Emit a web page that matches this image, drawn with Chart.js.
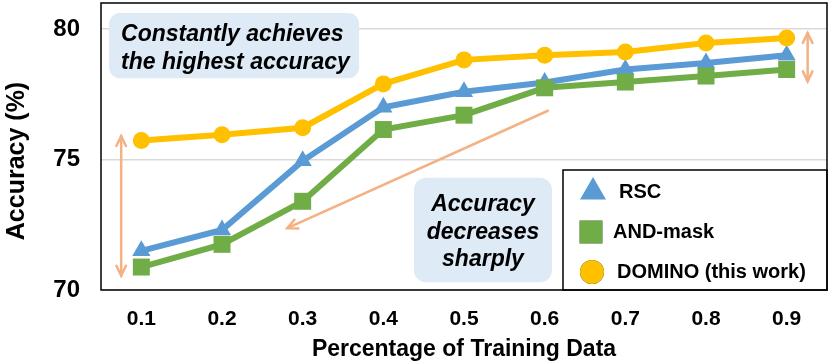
<!DOCTYPE html>
<html>
<head>
<meta charset="utf-8">
<script src="https://cdn.jsdelivr.net/npm/chart.js@4"></script>
<style>
  body { margin: 0; background: #fff; }
  #wrap { width: 830px; height: 363px; position: relative; }
</style>
</head>
<body>
<div id="wrap"><canvas id="accChart"></canvas></div>
<script>
// data
const categories = ['0.1', '0.2', '0.3', '0.4', '0.5', '0.6', '0.7', '0.8', '0.9'];
const rscAcc     = [71.5, 72.3, 74.95, 77.0, 77.6, 77.95, 78.45, 78.7, 79.0];
const andMaskAcc = [70.88, 71.75, 73.4, 76.15, 76.7, 77.75, 77.97, 78.2, 78.45];
const dominoAcc  = [75.73, 75.95, 76.22, 77.9, 78.82, 79.0, 79.12, 79.47, 79.66];
const yTicks = [70, 75, 80];

const FONT = '"Liberation Sans", Arial, sans-serif';
const BLUE = '#5B9BD5', GREEN = '#70AD47', YELLOW = '#FFC000';
const ARROW = '#F4B183', NOTE_BG = '#DEEAF6';

function roundRect(ctx, x, y, w, h, r) {
  ctx.beginPath();
  ctx.moveTo(x + r, y);
  ctx.arcTo(x + w, y, x + w, y + h, r);
  ctx.arcTo(x + w, y + h, x, y + h, r);
  ctx.arcTo(x, y + h, x, y, r);
  ctx.arcTo(x, y, x + w, y, r);
  ctx.closePath();
}

function arrowHead(ctx, x, y, angle, len) {
  ctx.beginPath();
  ctx.moveTo(x + len * Math.cos(angle + 0.45), y + len * Math.sin(angle + 0.45));
  ctx.lineTo(x, y);
  ctx.lineTo(x + len * Math.cos(angle - 0.45), y + len * Math.sin(angle - 0.45));
  ctx.stroke();
}

function arrow(ctx, x1, y1, x2, y2, both) {
  ctx.beginPath();
  ctx.moveTo(x1, y1);
  ctx.lineTo(x2, y2);
  ctx.stroke();
  const a = Math.atan2(y1 - y2, x1 - x2);
  arrowHead(ctx, x2, y2, a, 11);
  if (both) arrowHead(ctx, x1, y1, a + Math.PI, 11);
}

// notes and arrows placed in data units
const notesPlugin = {
  id: 'notes',
  beforeDatasetsDraw(chart) {
    const { ctx, scales: { x, y } } = chart;
    ctx.save();
    // boxes
    ctx.fillStyle = NOTE_BG;
    let bx = x.getPixelForValue(-0.4), by = y.getPixelForValue(80.62);
    roundRect(ctx, bx, by, x.getPixelForValue(2.7) - bx, y.getPixelForValue(78.12) - by, 11);
    ctx.fill();
    let cx = x.getPixelForValue(3.38), cy = y.getPixelForValue(74.3);
    roundRect(ctx, cx, cy, x.getPixelForValue(5.09) - cx, y.getPixelForValue(70.3) - cy, 12);
    ctx.fill();

    ctx.fillStyle = '#000';
    ctx.font = 'italic bold 23px ' + FONT;
    ctx.textBaseline = 'middle';
    ctx.textAlign = 'left';
    ctx.fillText('Constantly achieves', bx + 12, by + 22);
    ctx.fillText('the highest accuracy', bx + 12, by + 50);
    ctx.textAlign = 'center';
    const mid = (cx + x.getPixelForValue(5.09)) / 2;
    ctx.fillText('Accuracy', mid, cy + 27);
    ctx.fillText('decreases', mid, cy + 55);
    ctx.fillText('sharply', mid, cy + 82);

    // arrows
    ctx.strokeStyle = ARROW;
    ctx.lineWidth = 2.5;
    ctx.lineCap = 'round';
    const lx = x.getPixelForValue(-0.25);
    arrow(ctx, lx, y.getPixelForValue(75.9), lx, y.getPixelForValue(70.55), true);
    const rx = x.getPixelForValue(8.26);
    arrow(ctx, rx, y.getPixelForValue(79.85), rx, y.getPixelForValue(78.0), true);
    arrow(ctx, x.getPixelForValue(5.04), y.getPixelForValue(76.87),
               x.getPixelForValue(1.81), y.getPixelForValue(72.37), false);
    ctx.restore();
  },
  afterDraw(chart) {
    const { ctx, chartArea: a } = chart;
    ctx.save();
    // y axis title
    ctx.fillStyle = '#000';
    ctx.font = 'bold 25px ' + FONT;
    ctx.textAlign = 'center';
    ctx.textBaseline = 'middle';
    ctx.translate(17, 161);
    ctx.rotate(-Math.PI / 2);
    ctx.fillText('Accuracy (%)', 0, 0);
    ctx.setTransform(1, 0, 0, 1, 0, 0);

    // legend box
    const lx = a.left + 462, ly = a.top + 167;
    ctx.fillStyle = '#fff';
    ctx.fillRect(lx, ly, a.right - lx, a.bottom - ly);
    ctx.strokeStyle = '#000';
    ctx.lineWidth = 1.5;
    ctx.strokeRect(lx, ly, a.right - lx, a.bottom - ly);
    const items = [
      { label: 'RSC', color: BLUE, style: 'triangle', r: 15, dy: 22, mx: 30, tx: 56 },
      { label: 'AND-mask', color: GREEN, style: 'rect', r: 16, dy: 62, mx: 28, tx: 50 },
      { label: 'DOMINO (this work)', color: YELLOW, style: 'circle', r: 12, dy: 102, mx: 29, tx: 54 }
    ];
    ctx.font = 'bold 20px ' + FONT;
    ctx.textBaseline = 'middle';
    ctx.textAlign = 'left';
    items.forEach(it => {
      Chart.helpers.drawPoint(ctx, { pointStyle: it.style, radius: it.r, rotation: 0, borderWidth: 0 }, lx + it.mx, ly + it.dy);
      ctx.fillStyle = it.color;
      ctx.fill();
      ctx.fillStyle = '#000';
      ctx.fillText(it.label, lx + it.tx, ly + it.dy);
    });
    // plot frame
    ctx.strokeStyle = '#000';
    ctx.lineWidth = 1.5;
    ctx.strokeRect(a.left, a.top, a.right - a.left, a.bottom - a.top);
    ctx.restore();
  }
};

function series(label, data, color, style, radius, order) {
  return {
    label, data, order,
    borderColor: color, backgroundColor: color,
    borderWidth: 6,
    pointStyle: style, pointRadius: radius,
    pointBackgroundColor: color, pointBorderWidth: 0,
    tension: 0
  };
}

new Chart(document.getElementById('accChart'), {
  type: 'line',
  data: {
    labels: categories,
    datasets: [
      series('RSC', rscAcc, BLUE, 'triangle', 10.5, 2),
      series('AND-mask', andMaskAcc, GREEN, 'rect', 12, 1),
      series('DOMINO (this work)', dominoAcc, YELLOW, 'circle', 8.5, 0)
    ]
  },
  options: {
    responsive: true,
    maintainAspectRatio: false,
    animation: false,
    layout: { autoPadding: false, padding: { top: 3, right: 3, left: 0, bottom: 0 } },
    plugins: { legend: { display: false }, tooltip: { enabled: false } },
    scales: {
      x: {
        offset: true,
        grid: { display: false, drawTicks: false },
        border: { display: false },
        ticks: { color: '#000', padding: 17, font: { family: FONT, size: 21, weight: 'bold' } },
        title: { display: true, text: 'Percentage of Training Data', color: '#000',
                 padding: { top: 0, bottom: 0 },
                 font: { family: FONT, size: 23, weight: 'bold' } },
        afterFit(s) { s.height = 73; s.paddingLeft = 0; s.paddingRight = 0; }
      },
      y: {
        min: 70, max: 81,
        grid: { color: '#D9D9D9', lineWidth: 1.5, drawTicks: false },
        border: { display: false },
        ticks: { color: '#000', padding: 21, stepSize: 5, font: { family: FONT, size: 24, weight: 'bold' } },
        afterBuildTicks(s) { s.ticks = yTicks.map(v => ({ value: v })); },
        title: { display: false },
        afterFit(s) { s.width = 101; s.paddingTop = 0; s.paddingBottom = 0; }
      }
    }
  },
  plugins: [notesPlugin]
});
</script>
</body>
</html>
